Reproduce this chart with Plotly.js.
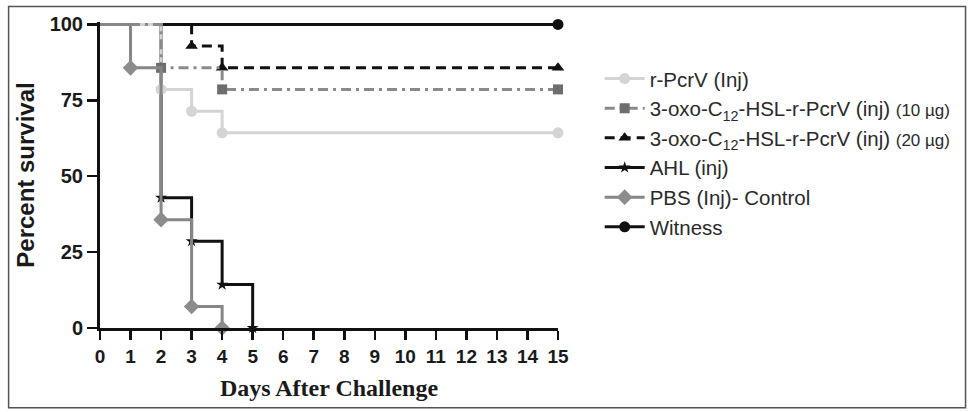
<!DOCTYPE html>
<html>
<head>
<meta charset="utf-8">
<script src="https://cdn.plot.ly/plotly-3.0.1.min.js"></script>
<style>
  html, body { margin: 0; padding: 0; background: #fff; }
  #chart { width: 968px; height: 412px; }
</style>
</head>
<body>
<div id="chart"></div>
<script>
// ---- data (Kaplan-Meier survival, percent) ----
const rPcrV_days   = [0, 2, 3, 4, 15];
const rPcrV_surv   = [100, 78.6, 71.4, 64.3, 64.3];
const oxo10_days   = [0, 2, 4, 15];
const oxo10_surv   = [100, 85.7, 78.6, 78.6];
const oxo20_days   = [0, 3, 4, 15];
const oxo20_surv   = [100, 92.9, 85.7, 85.7];
const ahl_days     = [0, 2, 3, 4, 5];
const ahl_surv     = [100, 42.9, 28.6, 14.3, 0];
const pbs_days     = [0, 1, 2, 3, 4];
const pbs_surv     = [100, 85.7, 35.7, 7.1, 0];
const witness_days = [0, 15];
const witness_surv = [100, 100];

const seriesNames = [
  'r-PcrV (Inj)',
  '3-oxo-C<sub>12</sub>-HSL-r-PcrV (inj) <span style="font-size:17px">(10 µg)</span>',
  '3-oxo-C<sub>12</sub>-HSL-r-PcrV (inj) <span style="font-size:17px">(20 µg)</span>',
  'AHL (inj)',
  'PBS (Inj)- Control',
  'Witness'
];
const xTickVals = [0,1,2,3,4,5,6,7,8,9,10,11,12,13,14,15];
const yTickVals = [0, 25, 50, 75, 100];

// build a step trace; points reversed so the starting (0,100) point is last and gets no marker
function stepTrace(days, surv, name, rank, color, dash, width, symbol, size, mcolor) {
  const x = days.slice().reverse();
  const y = surv.slice().reverse();
  const mc = x.map((v, i) => i === x.length - 1 ? 'rgba(0,0,0,0)' : (mcolor || color));
  return {
    type: 'scatter', mode: 'lines+markers', name: name, legendrank: rank,
    x: x, y: y, cliponaxis: false,
    line: { shape: 'vh', color: color, width: width, dash: dash },
    marker: { symbol: symbol, size: size, color: mc, line: { width: 0 } },
    hoverinfo: 'skip'
  };
}

const traces = [
  stepTrace(witness_days, witness_surv, seriesNames[5], 6, '#111111', 'solid', 3, 'circle', 11),
  stepTrace(ahl_days, ahl_surv, seriesNames[3], 4, '#111111', 'solid', 3, 'star', 9),
  stepTrace(oxo20_days, oxo20_surv, seriesNames[2], 3, '#111111', '10px,6px', 3, 'triangle-up', 11),
  stepTrace(rPcrV_days, rPcrV_surv, seriesNames[0], 1, '#d4d4d4', 'solid', 3, 'circle', 11),
  stepTrace(oxo10_days, oxo10_surv, seriesNames[1], 2, '#8a8a8a', '10px,5px,3px,5px', 3, 'square', 10, '#6e6e6e'),
  stepTrace(pbs_days, pbs_surv, seriesNames[4], 5, '#868686', 'solid', 3, 'diamond', 12, '#8c8c8c')
];

const layout = {
  width: 968, height: 412,
  margin: { l: 99.5, r: 410, t: 21.5, b: 84, pad: 0 },
  paper_bgcolor: '#ffffff', plot_bgcolor: '#ffffff',
  showlegend: true,
  font: { family: 'Liberation Sans, Arial, sans-serif', color: '#1a1a1a' },
  xaxis: {
    range: [0, 15], tickvals: xTickVals, ticktext: xTickVals.map(String),
    showgrid: false, zeroline: false, showline: true, linecolor: '#111', linewidth: 3,
    ticks: 'outside', ticklen: 9, tickwidth: 2.5, tickcolor: '#111',
    tickfont: { family: 'Liberation Sans, Arial, sans-serif', size: 19, weight: 'bold', color: '#1a1a1a' },
    title: { text: 'Days After Challenge', standoff: 14,
      font: { family: 'Liberation Serif, Times New Roman, serif', size: 24, weight: 'bold', color: '#1a1a1a' } },
    fixedrange: true
  },
  yaxis: {
    range: [0, 100.8], tickvals: yTickVals, ticktext: yTickVals.map(String),
    showgrid: false, zeroline: false, showline: true, linecolor: '#111', linewidth: 3,
    ticks: 'outside', ticklen: 10, tickwidth: 2.5, tickcolor: '#111',
    tickfont: { family: 'Liberation Sans, Arial, sans-serif', size: 20, weight: 'bold', color: '#1a1a1a' },
    title: { text: 'Percent survival', standoff: 9,
      font: { family: 'Liberation Sans, Arial, sans-serif', size: 24, weight: 'bold', color: '#1a1a1a' } },
    fixedrange: true
  },
  legend: {
    x: 1.091, xanchor: 'left', y: 0.88, yanchor: 'top',
    font: { family: 'Liberation Sans, Arial, sans-serif', size: 20.5, color: '#2a2a2a' },
    itemwidth: 40, traceorder: 'normal', bgcolor: 'rgba(0,0,0,0)', borderwidth: 0
  },
  shapes: [{
    type: 'rect', xref: 'paper', yref: 'paper',
    x0: (8 - 99.5) / 458.5, x1: (966 - 99.5) / 458.5,
    y0: (328 - 408) / 306.5, y1: (328 - 6) / 306.5,
    line: { color: '#555', width: 1.5 }, fillcolor: 'rgba(0,0,0,0)', layer: 'below'
  }]
};

Plotly.newPlot('chart', traces, layout, { staticPlot: true, displayModeBar: false });
</script>
</body>
</html>
